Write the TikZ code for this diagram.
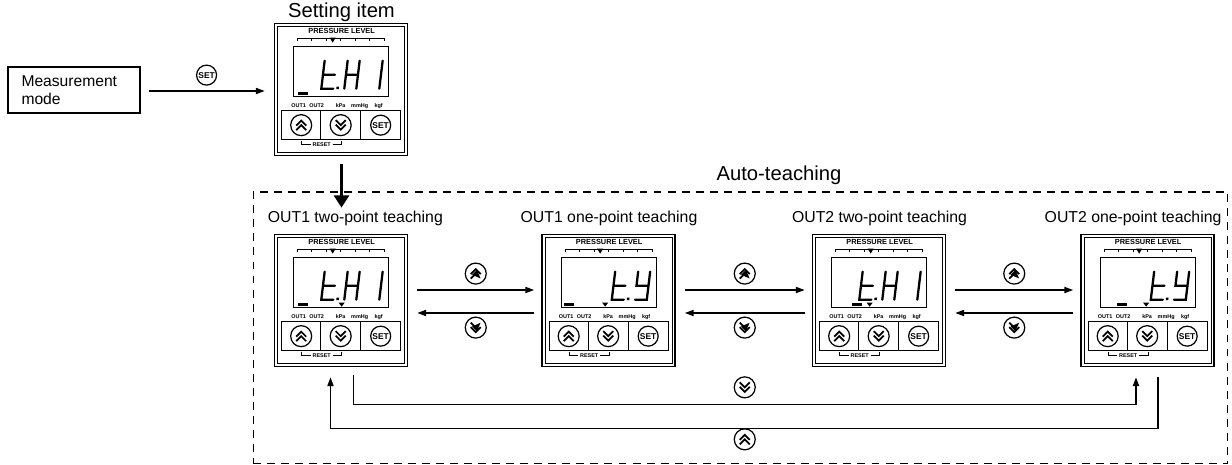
\documentclass[tikz,border=0pt]{standalone}
\usepackage{fontspec}
\setmainfont{Liberation Sans}
\usetikzlibrary{positioning,calc,arrows.meta}

\newcommand\lcdfont{\fontsize{3.1}{4}\selectfont}
\newcommand\segT[1]{\draw[segline,shift={(#1,37)},xslant=.12] (0,0)--(0,28)--(12,28) (0,14)--(12,14);
  \fill[shift={(#1,37)},xslant=.12] (15,26) rectangle +(2.5,2.5);}
\newcommand\segH[1]{\draw[segline,shift={(#1,37)},xslant=.12] (0,0)--(0,28) (12,0)--(12,28) (0,14)--(12,14);}
\newcommand\segOne[1]{\draw[segline,shift={(#1,37)},xslant=.12] (12,0)--(12,28);}
\newcommand\segY[1]{\draw[segline,shift={(#1,37)},xslant=.12] (0,0)--(0,14)--(12,14) (12,0)--(12,28)--(0,28);}
\newcommand\meter[5]{%
  \node[meterbox] (#1) at (#2) {};
  \begin{scope}[shift={(#1.north west)}]
    \draw[line width=.9pt] (0,0) rectangle (133,132);
    \draw[line width=.5pt] (3,3) rectangle (130,129);
    \node[font=\fontsize{4.2}{5}\selectfont\bfseries] at (67,7.5) {PRESSURE LEVEL};
    \draw[thin] (23,17)--(23,15)--(110,15)--(110,17);
    \foreach \k in {37,52,66,81,95} \draw[thin] (\k,15)--(\k,17);
    \fill (55,14)--(61,14)--(58,19)--cycle;
    \draw[line width=.6pt] (19,23) rectangle (114,73);
    #3
    \fill (#4,68.5) rectangle +(10,3);
    #5
    \foreach \lbl/\k in {OUT1/24,OUT2/42,kPa/66,mmHg/85,kgf/104}
      \node[font=\lcdfont\bfseries,anchor=base] at (\k,84) {\lbl};
    \draw[line width=.6pt] (7,87) rectangle (46,116) (46,87) rectangle (86,116) (86,87) rectangle (126,116);
    \node[iconup] (#1-up) at (26.5,101.5) {};
    \node[icondn] (#1-dn) at (66,101.5) {};
    \node[iconset] (#1-set) at (106,101.5) {SET};
    \draw[line width=.6pt] (27,117)--(27,121)--(36,121) (58,121)--(67,121)--(67,117);
    \node[font=\lcdfont\bfseries] at (47,121) {RESET};
  \end{scope}}

\begin{document}
\begin{tikzpicture}[x=0.02cm,y=-0.02cm,
    meterbox/.style={minimum width=2.66cm,minimum height=2.64cm,inner sep=0},
    segline/.style={line width=1.3pt,line cap=round},
    iconup/.style={circle,draw,line width=.7pt,minimum size=.42cm,inner sep=0,
      path picture={\draw[line width=1pt,shift={(path picture bounding box.center)}] (-5,0.5)--(0,-4.5)--(5,0.5) (-5,5)--(0,0)--(5,5);}},
    icondn/.style={circle,draw,line width=.7pt,minimum size=.42cm,inner sep=0,
      path picture={\draw[line width=1pt,shift={(path picture bounding box.center)}] (-5,-0.5)--(0,4.5)--(5,-0.5) (-5,-5)--(0,0)--(5,-5);}},
    iconset/.style={circle,draw,line width=.7pt,minimum size=.4cm,inner sep=0,font=\fontsize{4.8}{5}\selectfont\bfseries},
    arr/.style={-{Triangle[length=5pt,width=3.5pt]},line width=.8pt},
    bigarr/.style={-{Triangle[length=7pt,width=8.5pt]},line width=1.8pt},
    capt/.style={inner sep=1pt,font=\fontsize{9}{10}\selectfont}]
  \useasboundingbox (0,0) rectangle (1232,465);

  \node[draw,line width=.6pt,minimum width=2.64cm,minimum height=.92cm,text width=2.1cm,align=left,
    font=\fontsize{8.9}{10}\selectfont] (meas) at (74,90) {Measurement\\mode};

  \meter{si}{341.5,90}{\segT{50}\segH{73}\segOne{96}}{23}{}
  \node[capt,above=0pt of si,font=\fontsize{11.5}{12}\selectfont] (sitxt) {Setting item};
  \draw[arr] ($(meas.east)+(8,1)$) -- node[iconset,above=3pt] (set0) {SET} ($(si.west)+(-10,1)$);

  \node[draw,dash pattern=on 4.5pt off 3.5pt,line width=.6pt,minimum width=19.5cm,minimum height=5.44cm,inner sep=0] (auto) at (740.5,328) {};
  \node[capt,font=\fontsize{11.5}{12}\selectfont] (autotxt) at (779,175) {Auto-teaching};

  \meter{p1}{341.5,301}{\segT{50}\segH{73}\segOne{96}}{23}{\fill (64,68)--(70,68)--(67,72)--cycle;}
  \meter{p2}{609,301}{\segT{73}\segY{96}}{22}{\fill (60,68)--(66,68)--(63,72)--cycle;}
  \meter{p3}{879.5,301}{\segT{50}\segH{73}\segOne{96}}{39}{\fill (54,68)--(60,68)--(57,72)--cycle;}
  \meter{p4}{1148,301}{\segT{73}\segY{96}}{36}{\fill (62,68)--(68,68)--(65,72)--cycle;}

  \node[capt,above=4pt of p1,xshift=7.9pt] (p1txt) {OUT1 two-point teaching};
  \node[capt,above=4pt of p2] (p2txt) {OUT1 one-point teaching};
  \node[capt,above=4pt of p3] (p3txt) {OUT2 two-point teaching};
  \node[capt,above=4pt of p4,xshift=-8.5pt] (p4txt) {OUT2 one-point teaching};

  \draw[bigarr] ($(si.south)+(0,8)$) -- ($(p1.north)+(0,-27)$);

  \foreach \a/\b in {p1/p2,p2/p3,p3/p4} {
    \draw[arr] ($(\a.east)+(9,-11)$) -- node[iconup,above=3pt] (\a\b u) {} ($(\b.west)+(-8,-11)$);
    \draw[arr] ($(\b.west)+(-8,12)$) -- node[icondn,below=2pt] (\a\b d) {} ($(\a.east)+(9,12)$);
  }

  \draw[arr] ($(p1.south)+(12,8)$) -- ++(0,29) -| ($(p4.south)+(-12,10)$);
  \draw[arr] ($(p4.south)+(10,10)$) -- ++(0,51) -| ($(p1.south)+(-11,10)$);
  \node[icondn] (d14) at ($(p1.south)!.5!(p4.south)+(0,20)$) {};
  \node[iconup] (u14) at ($(p1.south)!.5!(p4.south)+(0,72)$) {};
\end{tikzpicture}
\end{document}
